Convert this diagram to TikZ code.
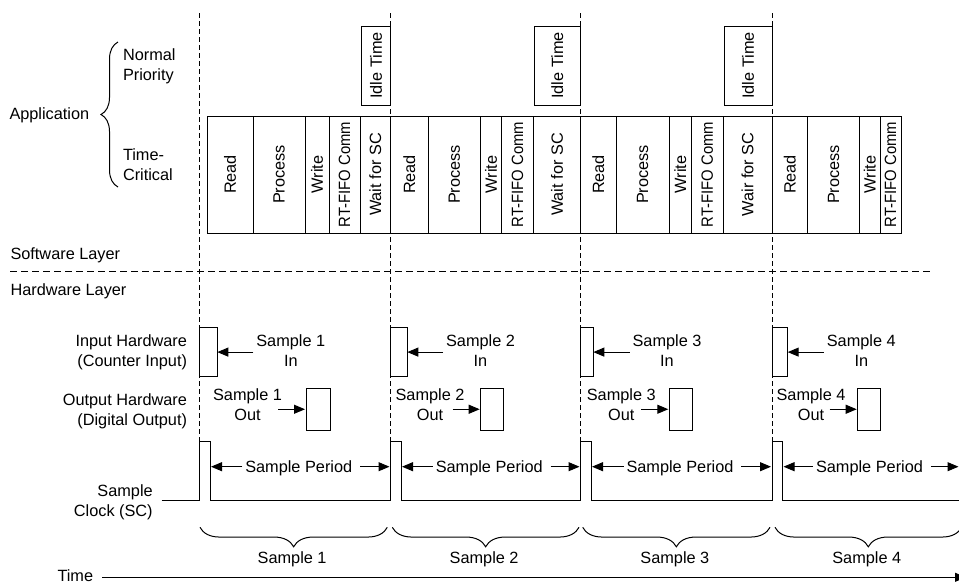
\documentclass[tikz,border=0pt]{standalone}
\usepackage{fontspec}
\setmainfont{Liberation Sans}
\usepackage{graphicx}
\usetikzlibrary{arrows.meta,decorations.pathreplacing}
\newcommand\dfont{\fontsize{16.3pt}{20pt}\selectfont}
\newcommand\twoc[2]{\begin{tabular}[t]{@{}c@{}}#1\\#2\end{tabular}}
\newcommand\twor[2]{\begin{tabular}[t]{@{}r@{}}#1\\#2\end{tabular}}
\newcommand\twol[2]{\begin{tabular}[t]{@{}l@{}}#1\\#2\end{tabular}}
\newcommand\rtf{\scalebox{0.91}[1]{RT-FIFO Comm}}
\begin{document}
\begin{tikzpicture}[x=1pt,y=-1pt,
  every node/.style={font=\dfont,inner sep=0pt,outer sep=0pt},
  ln/.style={line width=1pt},
  dv/.style={line width=0.9pt,dash pattern=on 4.5pt off 3.5pt},
  dh/.style={line width=0.9pt,dash pattern=on 6.5pt off 4.5pt},
  cellbox/.style={draw,fill=white,line width=1pt,minimum height=117pt,inner sep=0pt},
  hwbox/.style={draw,fill=white,line width=1pt,inner sep=0pt},
  arr/.style={line width=1pt,-{Triangle[length=11pt,width=9pt]}},
  brc/.style={decorate,decoration={brace,mirror,amplitude=19.5pt},line width=1pt},
  abrc/.style={decorate,decoration={brace,amplitude=17pt},line width=1pt}]
\useasboundingbox (0,0) rectangle (959,584);
\clip (0,0) rectangle (959,584);

% dashed guide lines
\foreach \x in {199.5,390.5,580.5,772} \draw[dv] (\x,13) -- (\x,441.7);
\draw[dh] (10,271.7) -- (931.7,271.7);

% left labels
\node[anchor=base west] (np) at (123,60) {\twol{Normal}{Priority}};
\node[anchor=base west] (app) at (9.5,119) {Application};
\node[anchor=base west] (tc) at (123,160.7) {\twol{Time-}{Critical}};
\draw[abrc] (118,187) -- (118,42);
\node[anchor=base west] (sw) at (10.5,259) {Software Layer};
\node[anchor=base west] (hw) at (10.5,295) {Hardware Layer};
\node[anchor=base east] (ih) at (187,346.7) {\twor{Input Hardware}{(Counter Input)}};
\node[anchor=base east] (oh) at (187,405) {\twor{Output Hardware}{(Digital Output)}};
\node[anchor=base east] (scl) at (152.7,496.7) {\twor{Sample}{Clock (SC)}};

% time-critical cells
\foreach \nm/\a/\b/\t in {
 ra/207/253/Read, pa/253/305/Process, wa/305/329/Write, fa/329/360/\rtf, sa/360/390.5/Wait for SC,
 rb/390.5/428/Read, pb/428/480.5/Process, wb/480.5/501.5/Write, fb/501.5/533.5/\rtf, sb/533.5/580.5/Wait for SC,
 rc/580.5/616/Read, pc/616/669/Process, wc/669/691.5/Write, fc/691.5/723/\rtf, sc/723/772/Wair for SC,
 rd/772/807.5/Read, pd/807.5/859.5/Process, wd/859.5/880/Write, fd/880/901/\rtf}
 \node[cellbox,minimum width={\b-\a}] (\nm) at ({(\a+\b)/2},174.5) {\rotatebox{90}{\t}};

% idle time boxes
\foreach \nm/\a/\b in {ia/361.5/390.5, ib/534/580.5, ic/724/772}
 \node[cellbox,minimum height=79pt,minimum width={\b-\a}] (\nm) at ({(\a+\b)/2},65.5) {\rotatebox{90}{Idle Time}};

% hardware boxes
\foreach \nm/\a/\b in {hi1/199.5/217.3, hi2/390.5/407.3, hi3/580.5/593.3, hi4/772/787.7}
 \node[hwbox,minimum width={\b-\a},minimum height=49.2pt] (\nm) at ({(\a+\b)/2},352.1) {};
\foreach \nm/\a/\b in {ho1/306/330, ho2/480.7/503.3, ho3/669.3/692.3, ho4/857.7/880}
 \node[hwbox,minimum width={\b-\a},minimum height=41.5pt] (\nm) at ({(\a+\b)/2},409.25) {};

% sample in labels
\foreach \i/\cx in {1/290.8, 2/480.5, 3/667, 4/861.3} {
 \node[anchor=base] (li\i) at (\cx,346.5) {\twoc{Sample \i}{In}};
 \draw[arr,shorten <=3pt] (li\i.west |- hi\i.east) -- (hi\i.east);
}
% sample out labels
\foreach \i/\cx in {1/247.5, 2/430, 3/621.3, 4/811} {
 \node[anchor=base] (lo\i) at (\cx,400.7) {\twoc{Sample \i}{Out}};
 \coordinate (oa\i) at ([xshift=-28pt]ho\i.west);
 \draw[arr,shorten >=1pt] (oa\i) -- (ho\i.west);
}

% sample clock
\draw[ln] (161.7,500.7) -- (199.5,500.7) -- (199.5,441.7) -- (210,441.7) -- (210,500.7)
 -- (390.5,500.7) -- (390.5,441.7) -- (401,441.7) -- (401,500.7)
 -- (580.5,500.7) -- (580.5,441.7) -- (591,441.7) -- (591,500.7)
 -- (772,500.7) -- (772,441.7) -- (782.5,441.7) -- (782.5,500.7) -- (962,500.7);

% sample period arrows
\foreach \i/\l/\r in {1/211/389.5, 2/402/579.5, 3/592/771, 4/783.5/958.5} {
 \coordinate (pl\i) at (\l,466.7);
 \coordinate (pr\i) at (\r,466.7);
 \node[anchor=base,inner xsep=3pt] (sp\i) at ({(\l+\r)/2-1.5},472.4) {Sample Period};
 \draw[arr] (sp\i.west |- pl\i) -- (pl\i);
 \draw[arr,shorten <=5pt] (sp\i.east |- pr\i) -- (pr\i);
}

% sample braces
\foreach \i/\a/\b in {1/200/387.3, 2/392.3/579, 3/582.7/770, 4/775/961.6} {
 \draw[brc] (\a,527.3) -- (\b,527.3);
 \node[anchor=base] (sl\i) at ({(\a+\b)/2-1.5},563.4) {Sample \i};
}

% time axis
\node[anchor=base west] (time) at (57.5,581.5) {Time};
\coordinate (tend) at (966,577.3);
\draw[arr,shorten <=9pt] (time.east |- tend) -- (tend);
\end{tikzpicture}
\end{document}
